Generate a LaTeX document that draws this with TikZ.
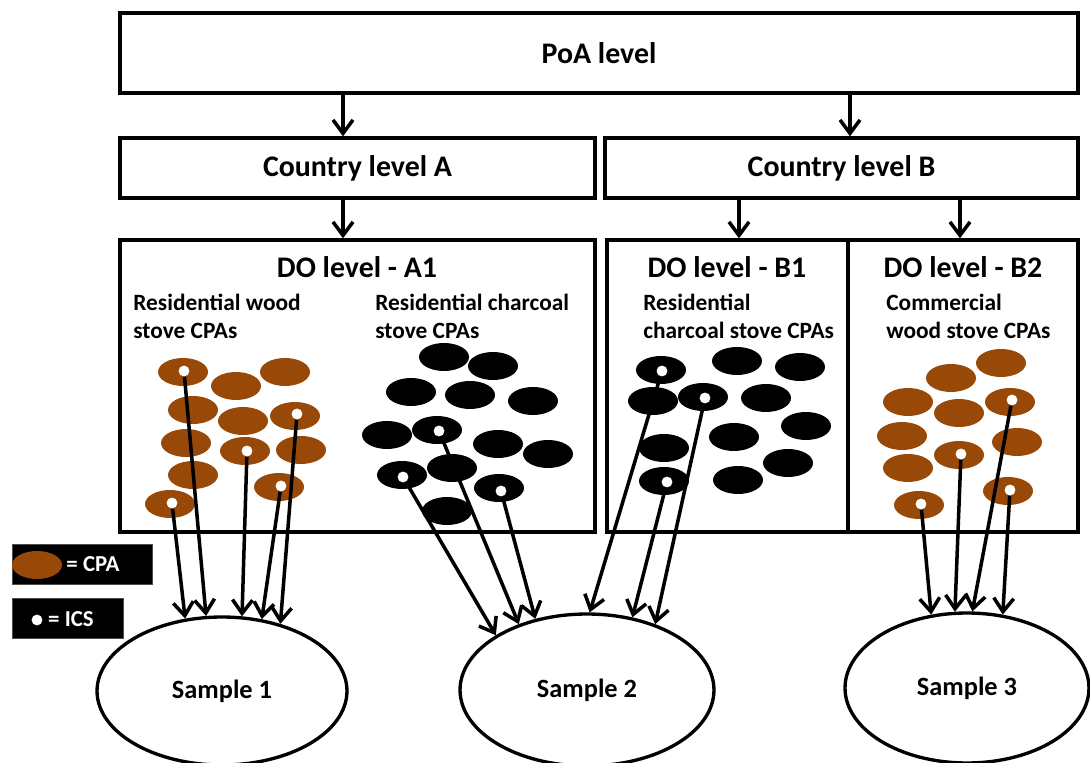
\documentclass[tikz,border=0pt]{standalone}
\usepackage{fontspec}
\setmainfont{Carlito}
\usetikzlibrary{shapes.geometric, arrows.meta, positioning}

\definecolor{cpabrown}{HTML}{984807}

\tikzset{
  lvlbox/.style={draw, line width=1.9pt, rectangle, inner sep=0pt, font=\fontsize{17}{20}\selectfont\bfseries},
  dotitle/.style={inner sep=0pt, font=\fontsize{17}{20}\selectfont\bfseries},
  grouptext/.style={anchor=west, align=left, inner sep=0pt, font=\fontsize{13.3}{16}\selectfont\bfseries},
  ics/.style={circle, fill=white, inner sep=0pt, minimum size=6.2pt},
  legbox/.style={fill=black, draw=black!70, inner sep=0pt, minimum height=0.8cm},
  legtext/.style={text=white, inner sep=0pt, font=\fontsize{13}{15}\selectfont\bfseries},
  samp/.style={draw, ellipse, line width=1.9pt, inner sep=0pt, font=\fontsize{15}{18}\selectfont\bfseries},
  flow/.style={line width=2pt, -{Straight Barb[length=2.7mm, width=4mm]}}
}

\begin{document}
\begin{tikzpicture}[x=0.02cm, y=-0.02cm]

            \useasboundingbox (0,0) rectangle (1090,763);

            % levels
            \node[lvlbox, minimum width=19.16cm, minimum height=1.6cm] (poa) at (599,53) {PoA level};
            \node[lvlbox, minimum width=9.5cm, minimum height=1.2cm] (ctyA) at (357.5,168) {Country level A};
            \node[lvlbox, minimum width=9.46cm, minimum height=1.2cm] (ctyB) at (841.5,168) {Country level B};
            \node[lvlbox, minimum width=9.5cm, minimum height=5.84cm] (doA1) at (357.5,386) {};
            \node[lvlbox, minimum width=4.82cm, minimum height=5.84cm] (doB1) at (727.5,386) {};
            \node[lvlbox, minimum width=4.6cm, minimum height=5.84cm] (doB2) at (963,386) {};

            \draw[flow] (poa.south -| 343,0) -- (ctyA.north -| 343,0);
            \draw[flow] (poa.south -| 850,0) -- (ctyB.north -| 850,0);
            \draw[flow] (ctyA.south -| 343,0) -- (doA1.north -| 343,0);
            \draw[flow] (ctyB.south -| 739,0) -- (doB1.north -| 739,0);
            \draw[flow] (ctyB.south -| 960,0) -- (doB2.north -| 960,0);

            \node[dotitle] (tA1) at (357,267) {DO level - A1};
            \node[dotitle] (tB1) at (727,267) {DO level - B1};
            \node[dotitle] (tB2) at (963,267) {DO level - B2};

            \node[grouptext] (gA1w) at (133,316) {Residential wood\\stove CPAs};
            \node[grouptext] (gA1c) at (375,316) {Residential charcoal\\stove CPAs};
            \node[grouptext] (gB1c) at (643,316) {Residential\\charcoal stove CPAs};
            \node[grouptext] (gB2w) at (886,316) {Commercial\\wood stove CPAs};

            % A1 wood CPAs
            \fill[cpabrown] (183,372) ellipse (5mm and 2.8mm);
            \fill[cpabrown] (236,386) ellipse (5mm and 2.8mm);
            \fill[cpabrown] (285,372) ellipse (5mm and 2.8mm);
            \fill[cpabrown] (193,410) ellipse (5mm and 2.8mm);
            \fill[cpabrown] (243,421) ellipse (5mm and 2.8mm);
            \fill[cpabrown] (295,416) ellipse (5mm and 2.8mm);
            \fill[cpabrown] (186,443) ellipse (5mm and 2.8mm);
            \fill[cpabrown] (245,451) ellipse (5mm and 2.8mm);
            \fill[cpabrown] (301,450) ellipse (5mm and 2.8mm);
            \fill[cpabrown] (193,475) ellipse (5mm and 2.8mm);
            \fill[cpabrown] (279,487) ellipse (5mm and 2.8mm);
            \fill[cpabrown] (170,504) ellipse (5mm and 2.8mm);

            % A1 charcoal CPAs
            \fill[black] (444,357) ellipse (5mm and 2.8mm);
            \fill[black] (493,366) ellipse (5mm and 2.8mm);
            \fill[black] (411,392) ellipse (5mm and 2.8mm);
            \fill[black] (470,395) ellipse (5mm and 2.8mm);
            \fill[black] (533,401) ellipse (5mm and 2.8mm);
            \fill[black] (387,435) ellipse (5mm and 2.8mm);
            \fill[black] (437,430) ellipse (5mm and 2.8mm);
            \fill[black] (498,444) ellipse (5mm and 2.8mm);
            \fill[black] (548,454) ellipse (5mm and 2.8mm);
            \fill[black] (402,475) ellipse (5mm and 2.8mm);
            \fill[black] (452,468) ellipse (5mm and 2.8mm);
            \fill[black] (499,488) ellipse (5mm and 2.8mm);
            \fill[black] (447,511) ellipse (5mm and 2.8mm);

            % B1 charcoal CPAs
            \fill[black] (661,370) ellipse (5mm and 2.8mm);
            \fill[black] (737,361) ellipse (5mm and 2.8mm);
            \fill[black] (800,367) ellipse (5mm and 2.8mm);
            \fill[black] (653,401) ellipse (5mm and 2.8mm);
            \fill[black] (703,397) ellipse (5mm and 2.8mm);
            \fill[black] (766,398) ellipse (5mm and 2.8mm);
            \fill[black] (806,426) ellipse (5mm and 2.8mm);
            \fill[black] (664,448) ellipse (5mm and 2.8mm);
            \fill[black] (734,437) ellipse (5mm and 2.8mm);
            \fill[black] (664,481) ellipse (5mm and 2.8mm);
            \fill[black] (738,480) ellipse (5mm and 2.8mm);
            \fill[black] (788,463) ellipse (5mm and 2.8mm);

            % B2 wood CPAs
            \fill[cpabrown] (1001,363) ellipse (5mm and 2.8mm);
            \fill[cpabrown] (951,378) ellipse (5mm and 2.8mm);
            \fill[cpabrown] (908,402) ellipse (5mm and 2.8mm);
            \fill[cpabrown] (959,413) ellipse (5mm and 2.8mm);
            \fill[cpabrown] (1010,402) ellipse (5mm and 2.8mm);
            \fill[cpabrown] (902,436) ellipse (5mm and 2.8mm);
            \fill[cpabrown] (1017,442) ellipse (5mm and 2.8mm);
            \fill[cpabrown] (959,455) ellipse (5mm and 2.8mm);
            \fill[cpabrown] (908,468) ellipse (5mm and 2.8mm);
            \fill[cpabrown] (1008,491) ellipse (5mm and 2.8mm);
            \fill[cpabrown] (919,505) ellipse (5mm and 2.8mm);

            % ICS
            \node[ics] (a1w1) at (172,503) {};
            \node[ics] (a1w2) at (184,371) {};
            \node[ics] (a1w3) at (247,451) {};
            \node[ics] (a1w4) at (281,486) {};
            \node[ics] (a1w5) at (297,414) {};
            \node[ics] (a1c1) at (403,477) {};
            \node[ics] (a1c2) at (439,431) {};
            \node[ics] (a1c3) at (501,491) {};
            \node[ics] (b1c1) at (662,371) {};
            \node[ics] (b1c2) at (667,482) {};
            \node[ics] (b1c3) at (705,398) {};
            \node[ics] (b2w1) at (921,504) {};
            \node[ics] (b2w2) at (961,454) {};
            \node[ics] (b2w3) at (1012,400) {};
            \node[ics] (b2w4) at (1010,490) {};

            % samples
            \node[samp, minimum width=5cm, minimum height=2.96cm] (s1) at (222,691) {Sample 1};
            \node[samp, minimum width=5.08cm, minimum height=3.04cm] (s2) at (587,690) {Sample 2};
            \node[samp, minimum width=4.88cm, minimum height=3cm] (s3) at (967,688) {Sample 3};

            \draw[flow] (a1w1) -- (s1.117);
            \draw[flow] (a1w2) -- (s1.102);
            \draw[flow] (a1w3) -- (s1.75);
            \draw[flow] (a1w4) -- (s1.61);
            \draw[flow] (a1w5) -- (s1.49);

            \draw[flow] (a1c1) -- (s2.149);
            \draw[flow] (a1c2) -- (s2.136);
            \draw[flow] (a1c3) -- (s2.126);
            \draw[flow] (b1c1) -- (s2.88);
            \draw[flow] (b1c2) -- (s2.58);
            \draw[flow] (b1c3) -- (s2.44);

            \draw[flow] (b2w1) -- (s3.116);
            \draw[flow] (b2w2) -- (s3.99);
            \draw[flow] (b2w3) -- (s3.86);
            \draw[flow] (b2w4) -- (s3.64);

            % legend
            \node[legbox, minimum width=2.8cm] (legCPA) at (82,564) {};
            \fill[cpabrown] (37,565) ellipse (5mm and 2.8mm);
            \node[legtext] (legCPAt) at (93,564) {= CPA};
            \node[legbox, minimum width=2.22cm] (legICS) at (67.5,618) {};
            \node[ics] (legdot) at (37,620) {};
            \node[legtext] (legICSt) at (71,619) {= ICS};

\end{tikzpicture}
\end{document}
